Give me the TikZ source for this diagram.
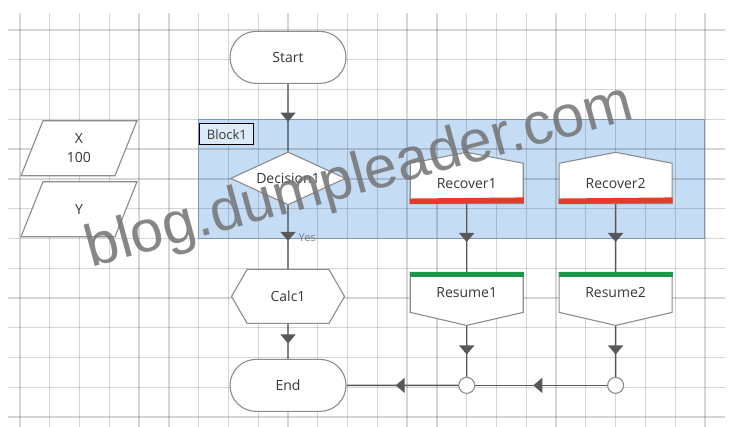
\documentclass[tikz,border=0pt]{standalone}
\usepackage{fontspec}
\setmainfont{Open Sans}
\newfontfamily\markfont{Liberation Sans}
\usetikzlibrary{shapes.geometric,shapes.misc,shapes.symbols,arrows.meta,decorations.markings,positioning}

\definecolor{blockblue}{RGB}{197,220,245}
\definecolor{blockedge}{RGB}{125,148,178}
\definecolor{shapeedge}{RGB}{140,140,140}
\definecolor{flowgray}{RGB}{88,88,88}
\definecolor{textgray}{RGB}{55,55,55}
\definecolor{recoverred}{RGB}{232,58,40}
\definecolor{resumegreen}{RGB}{28,150,72}

\tikzstyle{basebox} = [draw=shapeedge, line width=1.1pt, fill=white, text=textgray, inner sep=0pt, font=\fontsize{14}{19}\selectfont]
\tikzstyle{terminal} = [basebox, rounded rectangle, minimum width=116pt, minimum height=52pt]
\tikzstyle{decision} = [basebox, diamond, aspect=2.17, minimum width=115pt, minimum height=53pt]
\tikzstyle{calcbox} = [basebox, signal, signal to=west and east, signal pointer angle=120, minimum width=113pt, minimum height=54pt]
\tikzstyle{recover} = [basebox, signal, signal to=north, signal pointer angle=158, minimum width=113pt, minimum height=46pt]
\tikzstyle{resume} = [basebox, signal, signal to=south, signal pointer angle=154, minimum width=113pt, minimum height=47pt]
\tikzstyle{dataio} = [inner sep=0pt, text=textgray, font=\fontsize{14}{19}\selectfont, align=center, minimum width=118pt, minimum height=57pt,
	path picture={\draw [draw=shapeedge, line width=1.1pt, fill=white]
		([xshift=23pt,yshift=-1pt]path picture bounding box.north west) -- ([xshift=-1pt,yshift=-1pt]path picture bounding box.north east)
		-- ([xshift=-23pt,yshift=1pt]path picture bounding box.south east) -- ([xshift=1pt,yshift=1pt]path picture bounding box.south west) -- cycle;}]
\tikzstyle{junction} = [circle, draw=shapeedge, line width=1.1pt, fill=white, minimum size=16pt, inner sep=0pt]
\tikzstyle{flow} = [draw=flowgray, line width=1.4pt, postaction={decorate}, decoration={markings, mark=at position 0.56 with {\arrow[flowgray]{Triangle[width=15pt,length=9pt]}}}]
\tikzstyle{gridline} = [black, opacity=0.16, line width=1.3pt]
\tikzstyle{redbar} = [recoverred, line width=5.5pt]
\tikzstyle{greenbar} = [resumegreen, line width=5.5pt]

\begin{document}
\begin{tikzpicture}[x=29.78pt, y=-29.78pt]
		\fill [white] (-0.672,-1.007) rectangle (23.976,13.331);
		\useasboundingbox (-0.672,-1.007) rectangle (23.976,13.331);

		% block area and grid
		\fill [blockblue] (6,3) rectangle (23,7);
		\foreach \gx in {0,...,23} \draw [gridline] (\gx,-0.571) -- (\gx,13.331);
		\foreach \gy in {0,...,13} \draw [gridline] (-0.403,\gy) -- (23.67,\gy);
		\draw [blockedge, line width=1pt] (6,3) rectangle (23,7);
		\node (blocklbl) [draw=black, line width=1.1pt, fill=blockblue!60!white, text=textgray, inner sep=2pt, minimum width=54pt, minimum height=21pt, anchor=north west, font=\fontsize{13}{15}\selectfont] at (6.02,3.13) {Block1};

		\node (start) [terminal] at (9,0.92) {Start};
		\node (dec) [decision, below of=start, node distance=121pt] {Decision1};
		\node (calc) [calcbox, below of=dec, node distance=118pt] {Calc1};
		\node (end) [terminal, below of=calc, node distance=89pt] {End};
		\node (rec1) [recover, right of=dec, node distance=178.7pt, yshift=-5pt] {Recover1};
		\node (rec2) [recover, right of=rec1, node distance=148.9pt] {Recover2};
		\node (res1) [resume, right of=calc, node distance=178.7pt, yshift=4pt] {Resume1};
		\node (res2) [resume, right of=res1, node distance=148.9pt] {Resume2};
		\node (join1) [junction, right of=end, node distance=178.7pt] {};
		\node (join2) [junction, right of=join1, node distance=148.9pt] {};
		\node (varx) [dataio] at (1.98,3.97) {X\\100};
		\node (vary) [dataio, below of=varx, node distance=61pt] {Y};

		\draw [redbar] ([yshift=2.75pt]rec1.south west) -- ([yshift=2.75pt]rec1.south east);
		\draw [redbar] ([yshift=2.75pt]rec2.south west) -- ([yshift=2.75pt]rec2.south east);
		\draw [greenbar] ([yshift=-2.75pt]res1.north west) -- ([yshift=-2.75pt]res1.north east);
		\draw [greenbar] ([yshift=-2.75pt]res2.north west) -- ([yshift=-2.75pt]res2.north east);

		\draw [flow] (start) -- (dec);
		\draw [flow] (dec) -- node (yes) [pos=0.5, right=10pt, text=gray, inner sep=0pt, font=\fontsize{11}{13}\selectfont] {Yes} (calc);
		\draw [flow] (calc) -- (end);
		\draw [flow] (rec1) -- (res1);
		\draw [flow] (rec2) -- (res2);
		\draw [flow] (res1) -- (join1);
		\draw [flow] (res2) -- (join2);
		\draw [flow] (join2) -- (join1);
		\draw [flow] (join1) -- (end);

		\node (watermark) [anchor=base west, rotate=15.3, text=black!55, opacity=0.85, inner sep=0pt, font=\markfont\fontsize{59}{62}\selectfont] at (2.4,7.97) {blog.dumpleader.com};
\end{tikzpicture}
\end{document}
